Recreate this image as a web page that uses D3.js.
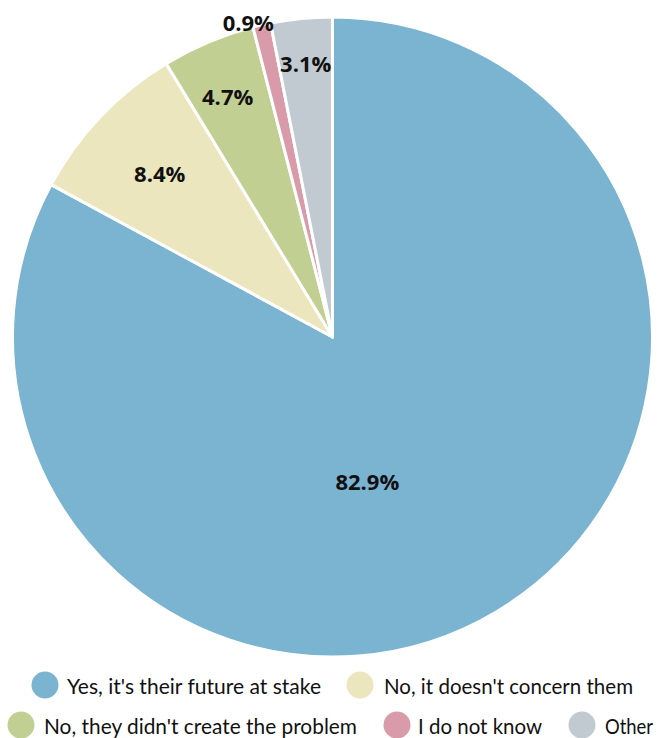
<!DOCTYPE html>
<html>
<head>
<meta charset="utf-8">
<script src="https://cdn.jsdelivr.net/npm/d3@7"></script>
<style>
  html, body { margin: 0; padding: 0; background: #ffffff; }
  svg { display: block; }
</style>
</head>
<body>
<svg id="chart" width="662" height="738"></svg>
<script>
// ---- data ----
const categories = [
  "Yes, it's their future at stake",
  "No, it doesn't concern them",
  "No, they didn't create the problem",
  "I do not know",
  "Other"
];
const values = [82.9, 8.4, 4.7, 0.9, 3.1];
const valueLabels = ["82.9%", "8.4%", "4.7%", "0.9%", "3.1%"];
const colors = ["#7bb4d0", "#ebe6bd", "#c2cf92", "#d99ba9", "#c1c9d1"];

// ---- layout (not data) ----
const W = 662, H = 738;
const cx = 332.5, cy = 337, R = 320;
// label placement: fraction of radius and angular shift (radians) per slice
const labelRadiusFrac = [0.463, 0.745, 0.82, 1.02, 0.86];
const labelAngleShift = [0.30, 0, -0.012, -0.038, 0];

const svg = d3.select("#chart");

const pie = d3.pie().sort(null).value(d => d)
  .startAngle(0).endAngle(2 * Math.PI);
const arcs = pie(values);
const arc = d3.arc().innerRadius(0).outerRadius(R);

const g = svg.append("g").attr("transform", `translate(${cx},${cy})`);

g.selectAll("path.slice")
  .data(arcs)
  .join("path")
  .attr("class", "slice")
  .attr("d", arc)
  .attr("fill", (d, i) => colors[i])
  .attr("stroke", "#ffffff")
  .attr("stroke-width", 3)
  .attr("stroke-linejoin", "round");

g.selectAll("text.val")
  .data(arcs)
  .join("text")
  .attr("class", "val")
  .attr("transform", (d, i) => {
    const a = (d.startAngle + d.endAngle) / 2 + labelAngleShift[i];
    const r = R * labelRadiusFrac[i];
    return `translate(${Math.sin(a) * r},${-Math.cos(a) * r})`;
  })
  .attr("text-anchor", "middle")
  .attr("dominant-baseline", "central")
  .attr("font-family", "'Open Sans', sans-serif")
  .attr("font-weight", 700)
  .attr("font-size", 22)
  .attr("fill", "#111111")
  .text((d, i) => valueLabels[i]);

// ---- legend ----
const legendRows = [[0, 1], [2, 3, 4]];
const rowY = [685, 725];
const rowItems = [
  [{cx: 45, tx: 67, tw: 254}, {cx: 360, tx: 384, tw: 249}],
  [{cx: 21, tx: 44, tw: 313}, {cx: 397, tx: 418, tw: 124}, {cx: 582, tx: 605, tw: 48}]
];

legendRows.forEach((row, ri) => {
  row.forEach((idx, k) => {
    const it = rowItems[ri][k];
    const lg = svg.append("g");
    lg.append("circle")
      .attr("cx", it.cx).attr("cy", rowY[ri]).attr("r", 13.5)
      .attr("fill", colors[idx]);
    lg.append("text")
      .attr("x", it.tx).attr("y", rowY[ri])
      .attr("dominant-baseline", "central")
      .attr("font-family", "Lato, sans-serif")
      .attr("font-size", 21)
      .attr("fill", "#111111")
      .attr("textLength", it.tw)
      .attr("lengthAdjust", "spacingAndGlyphs")
      .text(categories[idx]);
  });
});
</script>
</body>
</html>
